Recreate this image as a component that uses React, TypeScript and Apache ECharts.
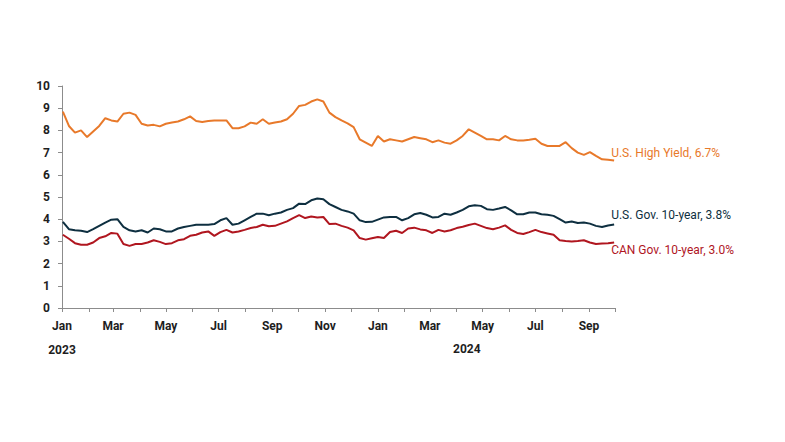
import React, { useEffect, useRef } from "react";
import * as echarts from "echarts";

// Weekly observations, first one on Monday 2023-01-02, one per week up to 2024-09-30
const firstWeek = "2023-01-02";

const highYield = [
  8.85, 8.2, 7.9, 8.0, 7.7, 7.95, 8.2, 8.55, 8.45, 8.4,
  8.75, 8.8, 8.7, 8.3, 8.22, 8.25, 8.18, 8.3, 8.36, 8.4,
  8.5, 8.63, 8.42, 8.38, 8.42, 8.45, 8.45, 8.45, 8.1, 8.1,
  8.18, 8.35, 8.3, 8.5, 8.3, 8.36, 8.4, 8.5, 8.75, 9.1,
  9.15, 9.3, 9.4, 9.3, 8.8, 8.6, 8.45, 8.32, 8.15, 7.6,
  7.45, 7.3, 7.75, 7.5, 7.6, 7.55, 7.5, 7.6, 7.7, 7.65,
  7.6, 7.47, 7.55, 7.45, 7.4, 7.55, 7.75, 8.05, 7.9, 7.75,
  7.6, 7.6, 7.55, 7.75, 7.6, 7.55, 7.55, 7.58, 7.62, 7.4,
  7.3, 7.3, 7.3, 7.47, 7.2, 7.0, 6.9, 7.02, 6.85, 6.7,
  6.68, 6.64,
];

const usGov10 = [
  3.88, 3.55, 3.5, 3.48, 3.42, 3.55, 3.7, 3.85, 3.98, 4.0,
  3.65, 3.5, 3.45, 3.5, 3.4, 3.58, 3.55, 3.45, 3.45, 3.58,
  3.65, 3.7, 3.75, 3.75, 3.75, 3.78, 3.95, 4.05, 3.75, 3.8,
  3.95, 4.1, 4.25, 4.25, 4.18, 4.25, 4.3, 4.42, 4.5, 4.7,
  4.68, 4.85, 4.93, 4.9, 4.68, 4.55, 4.42, 4.35, 4.25, 3.95,
  3.87, 3.88, 3.98, 4.08, 4.1, 4.1, 3.95, 4.05, 4.22, 4.28,
  4.2, 4.08, 4.1, 4.25, 4.2, 4.3, 4.42, 4.58, 4.63, 4.6,
  4.45, 4.42, 4.48, 4.55, 4.4, 4.22, 4.22, 4.3, 4.3, 4.22,
  4.2, 4.15, 4.0, 3.85, 3.9, 3.83, 3.85, 3.8, 3.7, 3.65,
  3.72, 3.76,
];

const canGov10 = [
  3.3, 3.12, 2.92, 2.85, 2.85, 2.95, 3.15, 3.23, 3.38, 3.35,
  2.88, 2.8, 2.88, 2.88, 2.95, 3.05, 2.98, 2.88, 2.92, 3.05,
  3.1, 3.25, 3.3, 3.4, 3.45, 3.25, 3.42, 3.52, 3.4, 3.45,
  3.52, 3.6, 3.65, 3.75, 3.68, 3.7, 3.8, 3.9, 4.05, 4.18,
  4.05, 4.12, 4.08, 4.1, 3.78, 3.8, 3.7, 3.62, 3.5, 3.15,
  3.08, 3.14, 3.2, 3.15, 3.42, 3.48, 3.38, 3.58, 3.62, 3.54,
  3.5, 3.38, 3.52, 3.45, 3.5, 3.6, 3.66, 3.74, 3.8, 3.7,
  3.6, 3.55, 3.62, 3.72, 3.52, 3.38, 3.33, 3.42, 3.52, 3.42,
  3.36, 3.3, 3.05, 3.02, 3.0, 3.02, 3.05, 2.95, 2.88, 2.9,
  2.92, 2.95,
];

const seriesNames = [
  "U.S. High Yield, 6.7%",
  "U.S. Gov. 10-year, 3.8%",
  "CAN Gov. 10-year, 3.0%",
];
const seriesColors = ["#E8792A", "#0E2F40", "#B0161F"];

const monthNames = ["Jan", "Feb", "Mar", "Apr", "May", "Jun", "Jul", "Aug", "Sep", "Oct", "Nov", "Dec"];
const yTicks = [0, 1, 2, 3, 4, 5, 6, 7, 8, 9, 10];
const axisStart = "2023-01-01";
const axisEnd = "2024-10-01";

function fmt(d: Date) {
  const y = d.getUTCFullYear();
  const m = String(d.getUTCMonth() + 1).padStart(2, "0");
  const dd = String(d.getUTCDate()).padStart(2, "0");
  return `${y}-${m}-${dd}`;
}

function buildDays(): string[] {
  const out: string[] = [];
  const d = new Date(axisStart + "T00:00:00Z");
  const end = new Date(axisEnd + "T00:00:00Z");
  while (d.getTime() <= end.getTime()) {
    out.push(fmt(d));
    d.setUTCDate(d.getUTCDate() + 1);
  }
  return out;
}

function placeWeekly(days: string[], values: number[]) {
  const arr: (number | null)[] = days.map(() => null);
  const start = new Date(firstWeek + "T00:00:00Z");
  values.forEach((v, k) => {
    const d = new Date(start.getTime());
    d.setUTCDate(d.getUTCDate() + 7 * k);
    const idx = days.indexOf(fmt(d));
    if (idx >= 0) arr[idx] = v;
  });
  return arr;
}

export default function App() {
  const ref = useRef<HTMLDivElement>(null);
  useEffect(() => {
    if (!ref.current) return;
    const chart = echarts.init(ref.current, null, { renderer: "svg" });
    const days = buildDays();
    const allValues = [highYield, usGov10, canGov10];
    const offsets = [
      [-3, -8],
      [-3, -10],
      [-3, 7],
    ];
    const font = "Roboto, 'Noto Sans', sans-serif";
    chart.setOption({
      animation: false,
      backgroundColor: "#ffffff",
      grid: { left: 54, right: 178, top: 78, bottom: 142, containLabel: false },
      xAxis: {
        type: "category",
        data: days,
        boundaryGap: false,
        axisLine: { show: true, lineStyle: { color: "#8c8c8c", width: 1 } },
        axisTick: {
          show: true,
          length: 4,
          interval: (_i: number, v: string) => v.slice(8) === "01",
          lineStyle: { color: "#8c8c8c" },
        },
        axisLabel: {
          interval: (_i: number, v: string) => {
            const m = parseInt(v.slice(5, 7), 10);
            return v.slice(8) === "01" && m % 2 === 1;
          },
          formatter: (v: string) => {
            const m = parseInt(v.slice(5, 7), 10);
            return monthNames[m - 1] + (v === axisStart ? "\n2023" : "");
          },
          color: "#1e1e1e",
          fontWeight: "bold",
          fontSize: 12,
          fontFamily: font,
          lineHeight: 24,
          margin: 6,
        },
        splitLine: { show: false },
      },
      yAxis: {
        type: "value",
        min: yTicks[0],
        max: yTicks[yTicks.length - 1],
        interval: 1,
        axisLine: { show: true, lineStyle: { color: "#8c8c8c", width: 1 } },
        axisTick: { show: true, length: 4, lineStyle: { color: "#8c8c8c" } },
        axisLabel: {
          color: "#1e1e1e",
          fontWeight: "bold",
          fontSize: 12,
          fontFamily: font,
          margin: 12,
        },
        splitLine: { show: false },
      },
      series: allValues.map((vals, i) => ({
        type: "line",
        name: seriesNames[i],
        data: placeWeekly(days, vals),
        connectNulls: true,
        showSymbol: false,
        symbol: "none",
        lineStyle: { color: seriesColors[i], width: 2 },
        itemStyle: { color: seriesColors[i] },
        endLabel: {
          show: true,
          formatter: seriesNames[i],
          color: seriesColors[i],
          fontSize: 12,
          fontFamily: font,
          distance: 0,
          offset: offsets[i],
        },
        z: 3 - i,
      })),
      graphic: [
        {
          type: "text",
          left: 445,
          top: 335,
          style: {
            text: "2024",
            fill: "#1e1e1e",
            font: "bold 12px Roboto, 'Noto Sans', sans-serif",
          },
        },
      ],
    });
    return () => chart.dispose();
  }, []);
  return <div ref={ref} style={{ width: 785, height: 442 }} />;
}
